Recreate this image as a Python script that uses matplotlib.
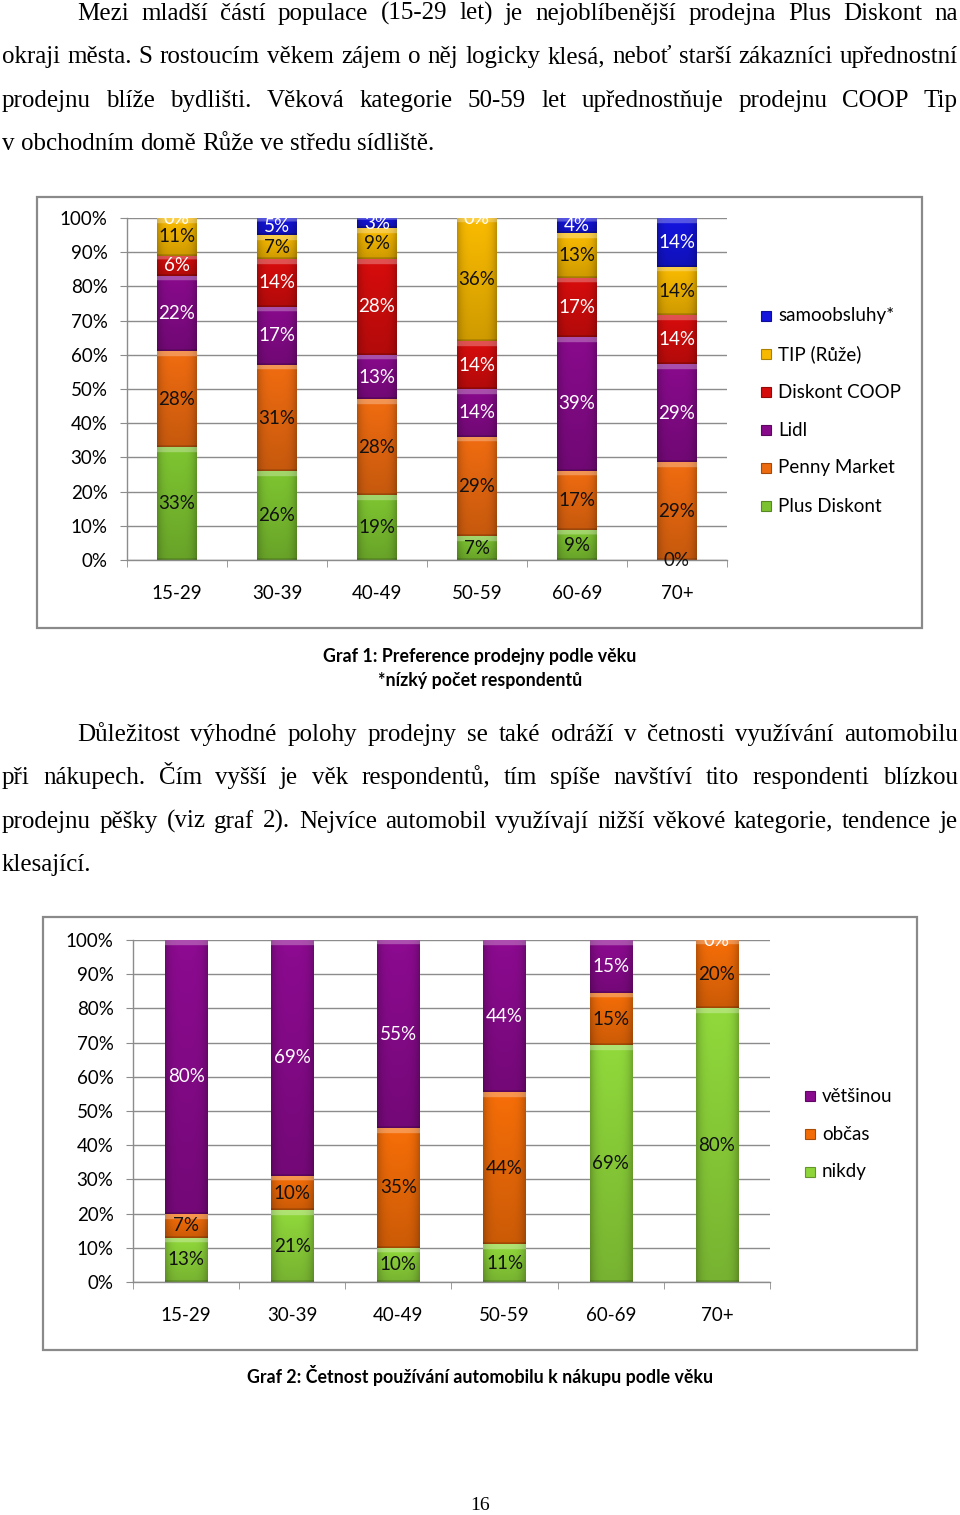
import matplotlib
matplotlib.use("Agg")
import matplotlib.pyplot as plt
import numpy as np
from matplotlib.patches import Rectangle
from matplotlib.colors import to_rgb

W, H = 960, 1515
SANS = ["Lato", "DejaVu Sans"]
SERIF = ["Liberation Serif", "DejaVu Serif"]
GREY = "#8c8c8c"

# ---- data: graf 1 (share of respondents by favourite shop) ----
ages = ["15-29", "30-39", "40-49", "50-59", "60-69", "70+"]
shops = ["Plus Diskont", "Penny Market", "Lidl", "Diskont COOP", "TIP (Růže)", "samoobsluhy*"]
plus_diskont = [33, 26, 19, 7, 8.7, 0]
penny_market = [28, 31, 28, 29, 17.4, 28.6]
lidl = [22, 17, 13, 14, 39.1, 28.6]
diskont_coop = [6, 14, 28, 14, 17.4, 14.3]
tip_ruze = [11, 7, 9, 36, 13.0, 14.3]
samoobsluhy = [0, 5, 3, 0, 4.3, 14.3]
shop_colors = ["#7CC230", "#EC6A10", "#860A8A", "#D40C0C", "#F6B800", "#1414DC"]
shop_text = ["#111111", "#111111", "white", "white", "#111111", "white"]

# ---- data: graf 2 (car use when shopping) ----
usage = ["nikdy", "občas", "většinou"]
nikdy = [13, 21, 10, 11.1, 69.2, 80]
obcas = [7, 10, 35, 44.4, 15.4, 20]
vetsinou = [80, 69, 55, 44.4, 15.4, 0]
usage_colors = ["#8ED53A", "#F26C08", "#8A0A8E"]
usage_text = ["#111111", "#111111", "white"]

par1 = ["Mezi mladší částí populace (15-29 let) je nejoblíbenější prodejna Plus Diskont na",
        "okraji města. S rostoucím věkem zájem o něj logicky klesá, neboť starší zákazníci upřednostní",
        "prodejnu blíže bydlišti. Věková kategorie 50-59 let upřednostňuje prodejnu COOP Tip",
        "v obchodním domě Růže ve středu sídliště."]
par2 = ["Důležitost výhodné polohy prodejny se také odráží v četnosti využívání automobilu",
        "při nákupech. Čím vyšší je věk respondentů, tím spíše navštíví tito respondenti blízkou",
        "prodejnu pěšky (viz graf 2). Nejvíce automobil využívají nižší věkové kategorie, tendence je",
        "klesající."]

fig = plt.figure(figsize=(W / 100, H / 100), dpi=100)
fig.patch.set_facecolor("white")


def fx(x):
    return x / W


def fy(y):
    return 1 - y / H


def shade(ax, bars, color):
    # bevelled look: darker sides and bottom, light strip on top
    rgb = np.array(to_rgb(color))
    for r in bars:
        x0, y0 = r.get_xy()
        w, h = r.get_width(), r.get_height()
        if h <= 0:
            continue
        nx, ny = 40, max(int(h * 4), 4)
        t = np.linspace(0, 1, nx)
        side = 1 - 0.22 * np.abs(2 * t - 1) ** 4
        u = np.linspace(0, h, ny)
        vert = 0.84 + 0.18 * (u / h)
        img = rgb[None, None, :] * side[None, :, None] * vert[:, None, None]
        top = u > h - min(1.3, h * 0.25)
        img[top] = img[top] * 0.72 + 0.28
        img[u < min(0.5, h * 0.12)] *= 0.8
        im = ax.imshow(np.clip(img, 0, 1), extent=(x0, x0 + w, y0, y0 + h),
                       origin="lower", aspect="auto", interpolation="bilinear", zorder=2.5)
        im.set_clip_path(r)


def stacked(ax, cats, series, colors, tcolors):
    x = np.arange(len(cats))
    bottom = np.zeros(len(cats))
    for vals, c, tc in zip(series, colors, tcolors):
        vals = np.array(vals, dtype=float)
        bars = ax.bar(x, vals, 0.4, bottom=bottom, color=c, zorder=2)
        shade(ax, bars, c)
        for xi, b, v in zip(x, bottom, vals):
            mid = b + v / 2
            ax.text(xi, mid, f"{v:.0f}%", ha="center", va="center", fontsize=13.5,
                    family=SANS, color=tc, zorder=4, clip_on=mid > 50)
        bottom += vals
    ax.set_xlim(-0.5, len(cats) - 0.5)
    ax.set_ylim(0, 100)
    ax.set_yticks(np.arange(0, 101, 10))
    ax.set_yticklabels([f"{v}%" for v in range(0, 101, 10)], family=SANS)
    ax.yaxis.grid(True, color=GREY, lw=1.0)
    ax.set_axisbelow(True)
    for s in ["top", "right"]:
        ax.spines[s].set_visible(False)
    for s in ["left", "bottom"]:
        ax.spines[s].set_color(GREY)
        ax.spines[s].set_linewidth(1.0)
    ax.tick_params(axis="y", length=5, color=GREY, labelsize=13.5, pad=9)
    ax.set_xticks(x)
    ax.set_xticklabels(cats, family=SANS)
    ax.tick_params(axis="x", which="major", length=0, pad=18, labelsize=13.5)
    ax.set_xticks(np.arange(-0.5, len(cats), 1), minor=True)
    ax.tick_params(axis="x", which="minor", length=5, color=GREY)


def legend(labels, colors, x, y0, dy):
    for i, (lab, c) in enumerate(zip(labels, colors)):
        y = y0 + i * dy
        fig.add_artist(Rectangle((fx(x - 5), fy(y + 5)), 10 / W, 10 / H, transform=fig.transFigure,
                                 fc=c, ec=np.array(to_rgb(c)) * 0.7, lw=0.8))
        fig.text(fx(x + 12), fy(y), lab, ha="left", va="center", fontsize=13.5, family=SANS)


# ---- graf 1 ----
fig.add_artist(Rectangle((fx(37), fy(628)), 885 / W, 431 / H, transform=fig.transFigure,
                         fill=False, ec="#8a8a8a", lw=1.6))
ax1 = fig.add_axes([fx(127), fy(560), 600 / W, 342 / H])
stacked(ax1, ages, [plus_diskont, penny_market, lidl, diskont_coop, tip_ruze, samoobsluhy],
        shop_colors, shop_text)
legend(shops[::-1], shop_colors[::-1], 766, 316, 38)

# ---- graf 2 ----
fig.add_artist(Rectangle((fx(43), fy(1350)), 874 / W, 433 / H, transform=fig.transFigure,
                         fill=False, ec="#8a8a8a", lw=1.6))
ax2 = fig.add_axes([fx(133), fy(1282), 637 / W, 342 / H])
stacked(ax2, ages, [nikdy, obcas, vetsinou], usage_colors, usage_text)
legend(usage[::-1], usage_colors[::-1], 810, 1096, 38)

# ---- captions ----
fig.text(fx(480), fy(657), "Graf 1: Preference prodejny podle věku", ha="center", va="center",
         fontsize=12.8, fontweight="bold", family=SANS)
fig.text(fx(480), fy(681), "*nízký počet respondentů", ha="center", va="center",
         fontsize=12.8, fontweight="bold", family=SANS)
fig.text(fx(480), fy(1375), "Graf 2: Četnost používání automobilu k nákupu podle věku", ha="center",
         va="center", fontsize=12.8, fontweight="bold", family=SANS)
fig.text(fx(480), fy(1505), "16", ha="center", va="center", fontsize=14, family=SERIF)

# ---- justified body text ----
renderer = fig.canvas.get_renderer()


def word_w(s, size):
    t = fig.text(0, 0, s, fontsize=size, family=SERIF)
    w = t.get_window_extent(renderer).width
    t.remove()
    return w


def fit_size(lines, base=18.0):
    ratio = 0
    for i, line in enumerate(lines[:-1]):
        x0 = 77 if i == 0 else 2
        ws = line.split()
        nat = sum(word_w(w, base) for w in ws) + (len(ws) - 1) * base * 0.25 * 100 / 72
        ratio = max(ratio, nat / (958 - x0))
    return base if ratio <= 1 else base / ratio


def paragraph(lines, y0, size):
    for i, line in enumerate(lines):
        x0 = 77 if i == 0 else 2
        ws = line.split()
        widths = [word_w(w, size) for w in ws]
        if i == len(lines) - 1:
            gap = size * 0.25 * 100 / 72
        else:
            gap = (958 - x0 - sum(widths)) / (len(ws) - 1)
        x = x0
        for w, ww in zip(ws, widths):
            fig.text(fx(x), fy(y0 + i * 43.3), w, ha="left", va="baseline",
                     fontsize=size, family=SERIF)
            x += ww + gap


size = min(fit_size(par1), fit_size(par2))
paragraph(par1, 20, size)
paragraph(par2, 741, size)

fig.savefig("out.png", dpi=100)
